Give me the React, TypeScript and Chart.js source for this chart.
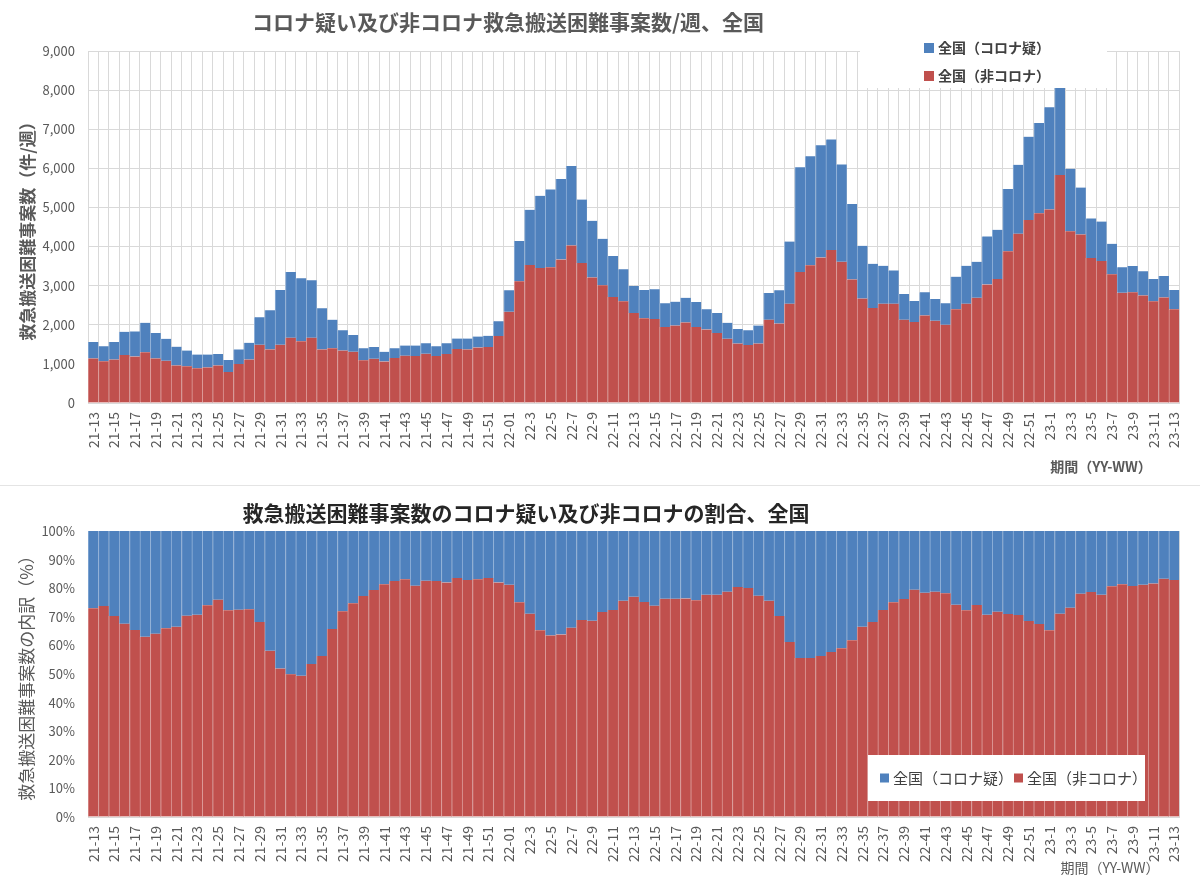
import React, { useEffect, useRef } from 'react';
import { Chart, registerables } from 'chart.js';

Chart.register(...registerables);

const FONT = "'Noto Sans CJK JP', 'Noto Sans', sans-serif";
const BLUE = '#4f81bd';
const RED = '#c0504d';
const BLUE_EDGE = '#8fb0d8';
const RED_EDGE = '#dc9896';
const TEXT = '#595959';
const GRID = '#d9d9d9';

const weeks = [
    '21-13', '21-14', '21-15', '21-16', '21-17', '21-18', '21-19', '21-20', '21-21', '21-22',
    '21-23', '21-24', '21-25', '21-26', '21-27', '21-28', '21-29', '21-30', '21-31', '21-32',
    '21-33', '21-34', '21-35', '21-36', '21-37', '21-38', '21-39', '21-40', '21-41', '21-42',
    '21-43', '21-44', '21-45', '21-46', '21-47', '21-48', '21-49', '21-50', '21-51', '21-52',
    '22-01', '22-2', '22-3', '22-4', '22-5', '22-6', '22-7', '22-8', '22-9', '22-10',
    '22-11', '22-12', '22-13', '22-14', '22-15', '22-16', '22-17', '22-18', '22-19', '22-20',
    '22-21', '22-22', '22-23', '22-24', '22-25', '22-26', '22-27', '22-28', '22-29', '22-30',
    '22-31', '22-32', '22-33', '22-34', '22-35', '22-36', '22-37', '22-38', '22-39', '22-40',
    '22-41', '22-42', '22-43', '22-44', '22-45', '22-46', '22-47', '22-48', '22-49', '22-50',
    '22-51', '22-52', '23-1', '23-2', '23-3', '23-4', '23-5', '23-6', '23-7', '23-8',
    '23-9', '23-10', '23-11', '23-12', '23-13',
];

// 全国（非コロナ） 件/週
const nonCorona = [
    1140, 1070, 1110, 1230, 1190, 1300, 1140, 1080, 960, 940,
    890, 910, 960, 790, 1000, 1110, 1490, 1370, 1490, 1670,
    1580, 1670, 1370, 1400, 1340, 1310, 1090, 1130, 1060, 1150,
    1210, 1200, 1260, 1200, 1250, 1380, 1370, 1420, 1430, 1710,
    2330, 3110, 3530, 3450, 3470, 3670, 4030, 3580, 3210, 3010,
    2710, 2600, 2300, 2170, 2150, 1940, 1980, 2060, 1940, 1880,
    1790, 1640, 1520, 1480, 1520, 2130, 2030, 2540, 3350, 3520,
    3720, 3910, 3610, 3160, 2670, 2430, 2540, 2540, 2130, 2070,
    2240, 2100, 2000, 2400, 2540, 2690, 3030, 3170, 3880, 4330,
    4680, 4850, 4950, 5830, 4390, 4310, 3710, 3630, 3290, 2820,
    2830, 2750, 2600, 2700, 2400,
];

// 全国（コロナ疑） 件/週
const suspected = [
    420, 380, 450, 590, 640, 750, 650, 560, 480, 400,
    350, 330, 290, 310, 370, 430, 700, 1000, 1400, 1680,
    1610, 1470, 1050, 730, 520, 430, 310, 300, 250, 250,
    260, 270, 270, 250, 280, 270, 280, 280, 290, 380,
    550, 1030, 1410, 1850, 1990, 2060, 2030, 1620, 1450, 1190,
    1050, 820, 690, 720, 760, 610, 610, 630, 640, 520,
    510, 410, 370, 380, 460, 680, 850, 1590, 2680, 2790,
    2870, 2830, 2490, 1930, 1350, 1130, 970, 850, 660, 540,
    590, 560, 550, 830, 970, 920, 1230, 1260, 1590, 1760,
    2130, 2310, 2610, 2230, 1600, 1200, 1010, 1010, 780, 650,
    670, 620, 570, 550, 490,
];

// 非コロナの割合 (%)
const nonCoronaShare = [
    73.0, 73.8, 70.3, 67.6, 65.4, 63.0, 64.1, 66.0, 66.5, 70.4,
    70.7, 74.0, 76.0, 72.3, 72.5, 72.6, 68.2, 58.1, 51.9, 49.9,
    49.4, 53.5, 56.3, 65.7, 71.9, 74.7, 77.3, 79.4, 81.4, 82.5,
    83.1, 80.9, 82.6, 82.5, 82.0, 83.6, 82.9, 83.1, 83.6, 82.0,
    81.2, 75.1, 71.1, 65.3, 63.5, 63.8, 66.2, 68.9, 68.6, 71.7,
    72.4, 75.6, 77.0, 75.2, 73.9, 76.3, 76.3, 76.4, 75.8, 77.7,
    77.7, 78.8, 80.4, 80.1, 77.4, 75.6, 70.3, 61.2, 55.6, 55.6,
    56.3, 57.7, 59.0, 61.8, 66.5, 68.2, 72.4, 75.1, 76.2, 79.5,
    78.4, 78.8, 78.2, 74.2, 72.3, 74.1, 70.7, 71.8, 71.0, 70.6,
    68.5, 67.5, 65.3, 71.1, 73.2, 78.1, 78.7, 77.7, 80.7, 81.4,
    80.8, 81.2, 81.6, 83.3, 82.9,
];
const suspectedShare = nonCoronaShare.map((v) => Math.round((100 - v) * 10) / 10);

const LABEL_SUSPECTED = '全国（コロナ疑）';
const LABEL_NON = '全国（非コロナ）';

type Note = { text: string; x: number; y: number; size: number; bold?: boolean; color?: string };
type LegendSpec = {
    box: { x: number; y: number; w: number; h: number };
    items: { dataset: number; x: number; y: number }[];
    square: number;
    size: number;
    bold: boolean;
};

const font = (size: number, bold?: boolean) => `${bold ? 'bold ' : ''}${size}px ${FONT}`;

// titles, axis captions and the in-plot legend box
const overlay = (notes: Note[], legend: LegendSpec) => ({
    id: 'overlay',
    afterDraw(chart: Chart) {
        const ctx = chart.ctx;
        ctx.save();
        ctx.fillStyle = '#ffffff';
        ctx.fillRect(legend.box.x, legend.box.y, legend.box.w, legend.box.h);
        ctx.textBaseline = 'middle';
        ctx.textAlign = 'left';
        legend.items.forEach((it) => {
            const ds = chart.data.datasets[it.dataset];
            const s = legend.square;
            ctx.fillStyle = ds.backgroundColor as string;
            ctx.fillRect(it.x, it.y - s / 2, s, s);
            ctx.fillStyle = '#404040';
            ctx.font = font(legend.size, legend.bold);
            ctx.fillText(ds.label as string, it.x + s + 4, it.y);
        });
        ctx.textAlign = 'center';
        notes.forEach((n) => {
            ctx.fillStyle = n.color || TEXT;
            ctx.font = font(n.size, n.bold);
            ctx.fillText(n.text, n.x, n.y);
        });
        ctx.restore();
    },
});

const barStyle = (color: string, edge: string) => ({
    backgroundColor: color,
    borderColor: edge,
    borderWidth: { left: 1, right: 0, top: 0, bottom: 0 },
    borderSkipped: false as const,
    barPercentage: 1,
    categoryPercentage: 1,
});

const xScale = (height: number) => ({
    stacked: true,
    grid: { color: GRID, drawTicks: false, offset: true },
    border: { color: GRID },
    ticks: {
        autoSkip: false,
        minRotation: 90,
        maxRotation: 90,
        padding: 9,
        color: TEXT,
        font: { size: 14, family: FONT },
        callback: (_v: unknown, i: number) => (i % 2 === 0 ? weeks[i] : ''),
    },
    afterFit: (s: any) => {
        s.height = height;
    },
});

const CountChart: React.FC = () => {
    const ref = useRef<HTMLCanvasElement>(null);

    useEffect(() => {
        if (!ref.current) return;
        const chart = new Chart(ref.current, {
            type: 'bar',
            data: {
                labels: weeks,
                datasets: [
                    { label: LABEL_NON, data: nonCorona, ...barStyle(RED, RED_EDGE) },
                    { label: LABEL_SUSPECTED, data: suspected, ...barStyle(BLUE, BLUE_EDGE) },
                ],
            },
            options: {
                responsive: false,
                animation: false,
                layout: { padding: { top: 51, right: 10, left: 0, bottom: 0 } },
                plugins: { legend: { display: false }, tooltip: { enabled: false } },
                scales: {
                    x: xScale(81) as any,
                    y: {
                        stacked: true,
                        min: 0,
                        max: 9000,
                        grid: { color: GRID, drawTicks: false },
                        border: { display: false },
                        ticks: {
                            stepSize: 1000,
                            padding: 13,
                            color: TEXT,
                            font: { size: 13, family: FONT },
                            callback: (v) => Number(v).toLocaleString('en-US'),
                        },
                        title: {
                            display: true,
                            text: '救急搬送困難事案数（件/週）',
                            color: TEXT,
                            font: { size: 17, weight: 'bold', family: FONT },
                            padding: { top: 17, bottom: 0 },
                        },
                        afterFit: (s) => {
                            s.width = 88;
                        },
                    },
                },
            },
            plugins: [
                overlay(
                    [
                        { text: 'コロナ疑い及び非コロナ救急搬送困難事案数/週、全国', x: 508, y: 22, size: 21, bold: true },
                        { text: '期間（YY-WW）', x: 1101, y: 467, size: 14, bold: true },
                    ],
                    {
                        box: { x: 860, y: 38, w: 247, h: 50 },
                        items: [
                            { dataset: 1, x: 924, y: 48 },
                            { dataset: 0, x: 924, y: 76 },
                        ],
                        square: 10,
                        size: 14,
                        bold: true,
                    }
                ),
            ],
        });
        return () => chart.destroy();
    }, []);

    return <canvas ref={ref} width={1200} height={484}></canvas>;
};

const ShareChart: React.FC = () => {
    const ref = useRef<HTMLCanvasElement>(null);

    useEffect(() => {
        if (!ref.current) return;
        const chart = new Chart(ref.current, {
            type: 'bar',
            data: {
                labels: weeks,
                datasets: [
                    { label: LABEL_NON, data: nonCoronaShare, ...barStyle(RED, RED_EDGE) },
                    { label: LABEL_SUSPECTED, data: suspectedShare, ...barStyle(BLUE, BLUE_EDGE) },
                ],
            },
            options: {
                responsive: false,
                animation: false,
                layout: { padding: { top: 43, right: 10, left: 0, bottom: 0 } },
                plugins: { legend: { display: false }, tooltip: { enabled: false } },
                scales: {
                    x: xScale(63) as any,
                    y: {
                        stacked: true,
                        min: 0,
                        max: 100,
                        grid: { color: GRID, drawTicks: false },
                        border: { display: false },
                        ticks: {
                            stepSize: 10,
                            padding: 13,
                            color: TEXT,
                            font: { size: 13, family: FONT },
                            callback: (v) => `${v}%`,
                        },
                        title: {
                            display: true,
                            text: '救急搬送困難事案数の内訳（%）',
                            color: TEXT,
                            font: { size: 17, family: FONT },
                            padding: { top: 16, bottom: 0 },
                        },
                        afterFit: (s) => {
                            s.width = 88;
                        },
                    },
                },
            },
            plugins: [
                overlay(
                    [
                        { text: '救急搬送困難事案数のコロナ疑い及び非コロナの割合、全国', x: 526, y: 25, size: 21, bold: true, color: '#262626' },
                        { text: '期間（YY-WW）', x: 1110, y: 380, size: 14 },
                    ],
                    {
                        box: { x: 868, y: 267, w: 277, h: 46 },
                        items: [
                            { dataset: 1, x: 880, y: 290 },
                            { dataset: 0, x: 1014, y: 290 },
                        ],
                        square: 9,
                        size: 15,
                        bold: false,
                    }
                ),
            ],
        });
        return () => chart.destroy();
    }, []);

    return <canvas ref={ref} width={1200} height={392}></canvas>;
};

export default function App() {
    return (
        <div style={{ position: 'absolute', left: 0, top: 0, width: 1200, height: 880, background: '#ffffff' }}>
            <div style={{ position: 'absolute', left: 0, top: 0 }}>
                <CountChart />
            </div>
            <div style={{ position: 'absolute', left: 0, top: 485, width: 1200, height: 1, background: '#e4e4e4' }} />
            <div style={{ position: 'absolute', left: 0, top: 488 }}>
                <ShareChart />
            </div>
        </div>
    );
}
